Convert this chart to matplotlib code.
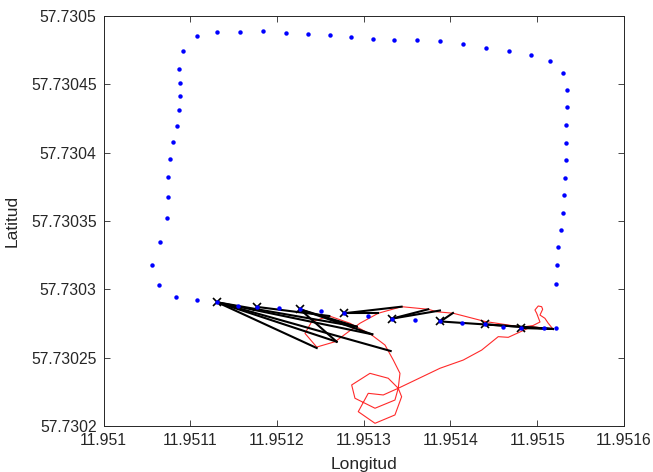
import numpy as np
import matplotlib
matplotlib.use("Agg")
import matplotlib.pyplot as plt

plt.rcParams['font.family'] = ['Liberation Sans', 'DejaVu Sans']

# ruta planificada (offsets en 1e-7 grados respecto a 11.951 / 57.7302)
ruta_lon = [1312, 1545, 1773, 2029, 2265, 2511, 2776, 3045, 3322, 3596, 3885, 4136, 4394, 4607, 4818, 5080, 5218,
            5212, 5227, 5242, 5270, 5297, 5305, 5323, 5331, 5328, 5328, 5339, 5346, 5293, 5147,
            4928, 4674, 4406, 4140, 3875, 3610, 3352, 3103, 2853, 2611, 2354, 2100, 1835, 1570, 1312, 1074, 916,
            874, 882, 882, 870, 844, 801, 767, 743, 740, 735, 651, 559, 640, 839, 1074]
ruta_lat = [906, 881, 872, 863, 855, 845, 826, 806, 786, 777, 766, 758, 745, 725, 718, 720, 716,
            1037, 1176, 1308, 1432, 1558, 1688, 1816, 1949, 2072, 2201, 2331, 2455, 2579, 2671,
            2715, 2742, 2764, 2793, 2813, 2825, 2825, 2830, 2842, 2857, 2866, 2876, 2886, 2883, 2883, 2854, 2740,
            2613, 2510, 2411, 2311, 2194, 2077, 1953, 1819, 1677, 1522, 1346, 1181, 1030, 945, 921]
marcados = [0, 2, 4, 6, 8, 10, 12, 14]   # puntos marcados con x

# trayectoria real
tray_lon = [5181, 5127, 5089, 5032, 5063, 5051, 5012, 4974, 4994, 5032, 4951, 4821, 4398, 4032, 3841, 3744,
            3437, 3168, 2957, 2669, 2458, 2323, 2400, 2603, 2841, 3092, 3245, 3341, 3418, 3398, 3225, 3052,
            2937, 3130, 3360, 3437, 3398, 3283, 3072, 2861, 2899, 3130, 3360, 3398, 3879, 4147, 4360, 4551,
            4666, 4936, 5181]
tray_lat = [711, 753, 789, 813, 855, 874, 879, 850, 826, 762, 736, 725, 766, 826, 837, 855,
            874, 826, 753, 618, 579, 679, 764, 806, 753, 667, 594, 484, 387, 278, 229, 241,
            107, 22, 83, 216, 278, 351, 387, 302, 205, 132, 192, 278, 424, 484, 557, 655,
            650, 728, 711]

# asociaciones: punto de ruta -> punto de la trayectoria
asoc_idx = [0, 0, 0, 0, 0, 2, 4, 4, 4, 6, 6, 8, 8, 10, 10, 12, 14]
asoc_lon = [2458, 2688, 3098, 3311, 2919, 2603, 2688, 2919, 3098, 3437, 3168, 3744, 3879, 5181, 4029, 5181, 5181]
asoc_lat = [572, 618, 672, 550, 728, 806, 618, 728, 672, 874, 826, 855, 846, 711, 828, 711, 711]

x_ticks = [11.951, 11.9511, 11.9512, 11.9513, 11.9514, 11.9515, 11.9516]
x_labels = ["11.951", "11.9511", "11.9512", "11.9513", "11.9514", "11.9515", "11.9516"]
y_ticks = [57.7302, 57.73025, 57.7303, 57.73035, 57.7304, 57.73045, 57.7305]
y_labels = ["57.7302", "57.73025", "57.7303", "57.73035", "57.7304", "57.73045", "57.7305"]

lon0, lat0 = 11.951, 57.7302
rlon = lon0 + np.array(ruta_lon) * 1e-7
rlat = lat0 + np.array(ruta_lat) * 1e-7
tlon = lon0 + np.array(tray_lon) * 1e-7
tlat = lat0 + np.array(tray_lat) * 1e-7
alon = lon0 + np.array(asoc_lon) * 1e-7
alat = lat0 + np.array(asoc_lat) * 1e-7

gris = '#262626'
fig = plt.figure(figsize=(6.53, 4.72), dpi=100)
ax = fig.add_axes([0.1585, 0.0968, 0.797, 0.87])

ax.plot(tlon, tlat, '-', color='#ff2a2a', lw=0.8)
for i, lo, la in zip(asoc_idx, alon, alat):
    ax.plot([rlon[i], lo], [rlat[i], la], '-', color='k', lw=1.5)
ax.plot(rlon[marcados], rlat[marcados], 'x', color='k', ms=6, mew=1.2)
ax.plot(rlon, rlat, 'o', color='#0000ff', ms=3.2, mew=0)

ax.set_xlim(11.951, 11.9516)
ax.set_ylim(57.7302, 57.7305)
ax.set_xticks(x_ticks)
ax.set_xticklabels(x_labels)
ax.set_yticks(y_ticks)
ax.set_yticklabels(y_labels)
ax.tick_params(direction='in', top=True, right=True, length=4, width=0.6,
               colors=gris, labelsize=11.3, pad=5)
for s in ax.spines.values():
    s.set_color(gris); s.set_linewidth(0.7)
ax.set_xlabel('Longitud', fontsize=12.5, color=gris, labelpad=6)
ax.set_ylabel('Latitud', fontsize=12.5, color=gris, labelpad=8)

fig.savefig('out.png', dpi=100)
